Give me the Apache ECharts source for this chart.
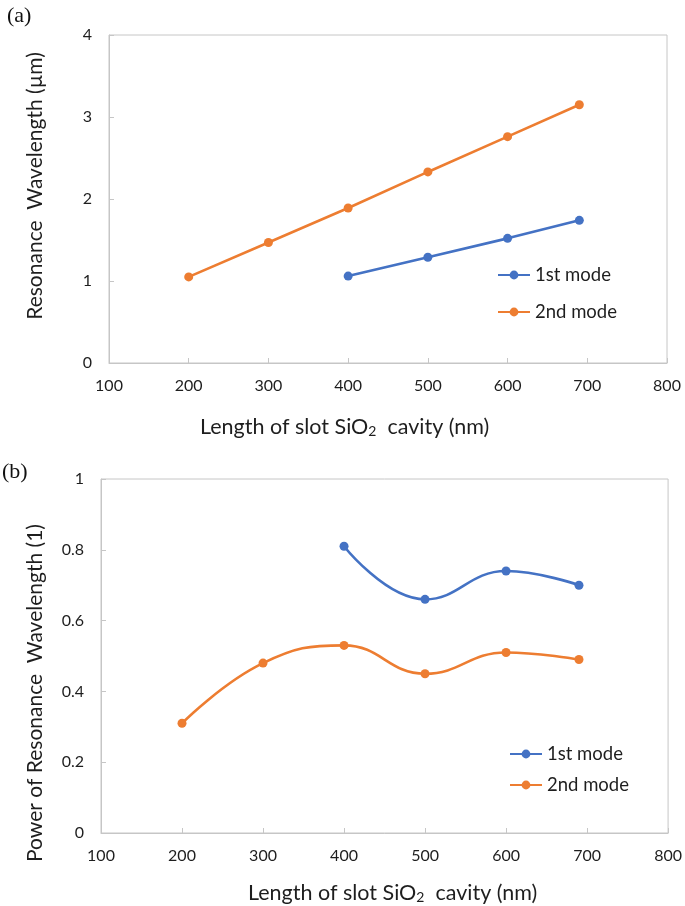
<!DOCTYPE html>
<html><head><meta charset="utf-8">
<script src="https://cdn.jsdelivr.net/npm/echarts@6/dist/echarts.min.js"></script>
<style>html,body{margin:0;padding:0;background:#fff}#c{width:685px;height:906px}</style>
</head><body><div id="c"></div>
<script>
// ---- data ----
const xTicks = [100, 200, 300, 400, 500, 600, 700, 800];
const yTicksA = [0, 1, 2, 3, 4];
const yTicksB = [0, 0.2, 0.4, 0.6, 0.8, 1];
const seriesNames = ['1st mode', '2nd mode'];
const xA1 = [400, 500, 600, 690];
const yA1 = [1.06, 1.29, 1.52, 1.74];
const xA2 = [200, 300, 400, 500, 600, 690];
const yA2 = [1.05, 1.47, 1.89, 2.33, 2.76, 3.15];
const xB1 = [400, 500, 600, 690];
const yB1 = [0.81, 0.66, 0.74, 0.70];
const xB2 = [200, 300, 400, 500, 600, 690];
const yB2 = [0.31, 0.48, 0.53, 0.45, 0.51, 0.49];
const yTitleA = 'Resonance  Wavelength (\u00B5m)';
const yTitleB = 'Power of Resonance  Wavelength (1)';
const xTitle = 'Length of slot SiO{sub|2}  cavity (nm)';

const pairs = (xs, ys) => xs.map((x, i) => [x, ys[i]]);
const colors = ['#4472C4', '#ED7D31'];
const txt = '#1e1e1e';
const font = 'Lato';

const chart = echarts.init(document.getElementById('c'), null, {renderer: 'canvas'});

function xAxisCfg(gi) {
  return {
    type: 'value', gridIndex: gi,
    min: xTicks[0], max: xTicks[xTicks.length - 1], interval: xTicks[1] - xTicks[0],
    axisLine: {show: true, lineStyle: {color: '#c6c6c6', width: 1}},
    axisTick: {show: true, inside: true, length: 5, lineStyle: {color: '#c6c6c6'}},
    splitLine: {show: false},
    axisLabel: {color: txt, fontSize: 16, fontFamily: font, margin: 15}
  };
}
function yAxisCfg(gi, ticks) {
  return {
    type: 'value', gridIndex: gi,
    min: ticks[0], max: ticks[ticks.length - 1], interval: ticks[1] - ticks[0],
    axisLine: {show: true, lineStyle: {color: '#c6c6c6', width: 1}},
    axisTick: {show: true, inside: true, length: 5, lineStyle: {color: '#c6c6c6'}},
    splitLine: {show: false},
    axisLabel: {color: txt, fontSize: 16, fontFamily: font, margin: 17}
  };
}
function lineSeries(name, xi, yi, data, color, smooth) {
  return {
    name, type: 'line', xAxisIndex: xi, yAxisIndex: yi, data,
    smooth: smooth, symbol: 'circle', symbolSize: 9,
    lineStyle: {color, width: 2.6}, itemStyle: {color},
    emphasis: {disabled: true}, animation: false
  };
}
function legendCfg(top, gap) {
  return {
    data: seriesNames, orient: 'vertical', top, itemGap: gap, padding: 0,
    itemWidth: 32, itemHeight: 11,
    textStyle: {color: txt, fontSize: 18.5, fontFamily: font, lineHeight: 20},
    selectedMode: false
  };
}
const subRich = {sub: {fontSize: 14, fontFamily: font, color: txt, verticalAlign: 'bottom', padding: [7, 0, 0, 0]}};

chart.setOption({
  animation: false,
  textStyle: {fontFamily: font},
  grid: [
    {left: 109, top: 35, width: 558, height: 328, show: true, borderColor: '#c6c6c6', borderWidth: 1},
    {left: 101, top: 479, width: 570, height: 354, show: true, borderColor: '#c6c6c6', borderWidth: 1}
  ],
  xAxis: [xAxisCfg(0), xAxisCfg(1)],
  yAxis: [yAxisCfg(0, yTicksA), yAxisCfg(1, yTicksB)],
  legend: [
    Object.assign(legendCfg(265, 17), {left: 497}),
    Object.assign(legendCfg(744, 11), {left: 509})
  ],
  series: [
    lineSeries(seriesNames[0], 0, 0, pairs(xA1, yA1), colors[0], false),
    lineSeries(seriesNames[1], 0, 0, pairs(xA2, yA2), colors[1], false),
    lineSeries(seriesNames[0], 1, 1, pairs(xB1, yB1), colors[0], 0.45),
    lineSeries(seriesNames[1], 1, 1, pairs(xB2, yB2), colors[1], 0.45)
  ],
  graphic: [
    {type: 'text', left: 7, top: 5, style: {text: '(a)', fontFamily: 'Liberation Serif', fontSize: 22, fill: '#111'}},
    {type: 'text', left: 2, top: 461, style: {text: '(b)', fontFamily: 'Liberation Serif', fontSize: 22, fill: '#111'}},
    {type: 'text', x: 35, y: 186, rotation: Math.PI / 2,
     style: {text: yTitleA, fontFamily: font, fontSize: 21, fill: txt, align: 'center', verticalAlign: 'middle'}},
    {type: 'text', x: 35, y: 693, rotation: Math.PI / 2,
     style: {text: yTitleB, fontFamily: font, fontSize: 21, fill: txt, align: 'center', verticalAlign: 'middle'}},
    {type: 'text', x: 200, y: 427,
     style: {text: xTitle, rich: subRich, fontFamily: font, fontSize: 21.5, fill: txt, align: 'left', verticalAlign: 'middle'}},
    {type: 'text', x: 248, y: 893,
     style: {text: xTitle, rich: subRich, fontFamily: font, fontSize: 21.5, fill: txt, align: 'left', verticalAlign: 'middle'}}
  ]
});
</script>
</body></html>
